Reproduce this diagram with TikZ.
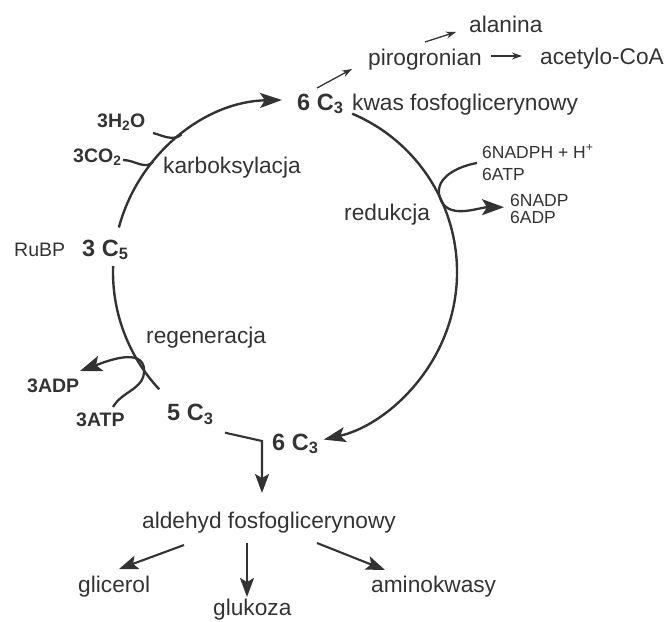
\documentclass[tikz,border=0pt]{standalone}
\usepackage{fontspec}
\setmainfont{Liberation Sans}
\usetikzlibrary{arrows.meta,calc}
\definecolor{ink}{HTML}{333333}
\tikzset{
  lbl/.style={inner sep=0pt, anchor=base west, text=ink, font=\fontsize{22.7}{26}\selectfont},
  numlbl/.style={lbl, font=\fontsize{23.5}{26}\selectfont\bfseries},
  sidelbl/.style={lbl, font=\fontsize{19.5}{22}\selectfont\bfseries},
  smalllbl/.style={lbl, font=\fontsize{17.5}{20}\selectfont},
  namelbl/.style={lbl, font=\fontsize{19.5}{22}\selectfont},
  % the cycle itself
  cycline/.style={draw=ink, line width=2.4pt},
  cycarrow/.style={cycline, -{Stealth[length=22pt,width=15pt,inset=5pt]}},
  % substrates joining / leaving the cycle
  sidehook/.style={draw=ink, line width=2.3pt},
  sidearrow/.style={sidehook, -{Stealth[length=22pt,width=16pt,inset=5pt]}},
  thinarrow/.style={draw=ink, line width=1.3pt, -{Stealth[length=10pt,width=7pt]}},
  flow/.style={draw=ink, line width=2.1pt, -{Stealth[length=19pt,width=14pt,inset=4pt]}},
}
\begin{document}
\begin{tikzpicture}[x=1pt,y=1pt]
  \useasboundingbox (0,0) rectangle (666,-621);
  \coordinate (cyc) at (285,-272);
  % top: products of 3-PGA
  \node[lbl] (ala) at (469,-32) {alanina};
  \node[lbl] (pir) at (368,-65) {pirogronian};
  \node[lbl] (acoa) at (540,-64) {acetylo-CoA};
  \node[numlbl] (pgatop) at (297,-110) {6 C\textsubscript{3}};
  \node[lbl] (pganame) at (352,-110) {kwas fosfoglicerynowy};
  % carboxylation side
  \node[sidelbl] (hwater) at (97,-127) {3H\textsubscript{2}O};
  \node[sidelbl] (cdiox) at (73,-162.7) {3CO\textsubscript{2}};
  \node[lbl] (karb) at (163,-173) {karboksylacja};
  \node[namelbl] (rubpname) at (14,-256) {RuBP};
  \node[numlbl] (rubp) at (82,-256) {3 C\textsubscript{5}};
  % reduction side
  \node[smalllbl] (nadph) at (482,-158) {6NADPH + H\textsuperscript{+}};
  \node[smalllbl] (atp6) at (482,-180) {6ATP};
  \node[smalllbl] (nadp) at (510,-206.7) {6NADP};
  \node[smalllbl] (adp6) at (510,-223) {6ADP};
  \node[lbl] (red) at (344,-220) {redukcja};
  % regeneration side
  \node[lbl] (regen) at (146,-343) {regeneracja};
  \node[sidelbl] (adp3) at (27,-392.7) {3ADP};
  \node[sidelbl] (atp3) at (76,-426.7) {3ATP};
  \node[numlbl] (c5three) at (167,-420.7) {5 C\textsubscript{3}};
  \node[numlbl] (pgabot) at (272,-450) {6 C\textsubscript{3}};
  % bottom: triose phosphate
  \node[lbl] (gap) at (142,-528) {aldehyd fosfoglicerynowy};
  \node[lbl] (glic) at (78,-592) {glicerol};
  \node[lbl] (gluk) at (213,-615.5) {glukoza};
  \node[lbl] (amino) at (371,-592) {aminokwasy};

  % the cycle
  \draw[cycarrow] ($(cyc)+(165:172)$) arc[start angle=165, end angle=91, radius=172];
  \draw[cycarrow] ($(cyc)+(67:172)$) arc[start angle=67, end angle=-77, radius=172];
  \draw[cycline] ($(cyc)+(223:172)$) arc[start angle=223, end angle=178, radius=172];

  % joints on the cycle
  \coordinate (jh) at ($(cyc)+(127:172)$);
  \coordinate (jc) at ($(cyc)+(140:172)$);
  \coordinate (jr) at ($(cyc)+(26:172)$);
  \coordinate (jg) at ($(cyc)+(215:172)$);
  \draw[sidehook] ([shift={(56,-6)}]hwater.base west) to[out=-15,in=217] (jh);
  \draw[sidehook] ([shift={(50,2.7)}]cdiox.base west) to[out=0,in=230] (jc);
  \draw[sidearrow] ([shift={(-5,-5)}]nadph.base west) to[out=190,in=105] (jr)
    to[out=-75,in=180] ([shift={(-6,-0.5)}]nadp.base west);
  \draw[sidearrow] ([shift={(37,19.7)}]atp3.base west) to[out=60,in=-90] (jg)
    to[out=90,in=20] ([shift={(53,21.7)}]adp3.base west);

  % side products of 3-PGA
  \draw[thinarrow] ([shift={(20,22)}]pgatop.base west) -- ([shift={(-16,-4)}]pir.base west);
  \draw[thinarrow] ([shift={(57,23)}]pir.base west) -- ([shift={(-13,0)}]ala.base west);
  \draw[thinarrow] ([shift={(123,9)}]pir.base west) -- ([shift={(-18,8)}]acoa.base west);

  % out of the cycle
  \draw[flow] ([shift={(58,-12)}]c5three.base west) -- ([shift={(-10,9)}]pgabot.base west)
    -- ([shift={(120,35)}]gap.base west);
  \draw[flow] ([shift={(42,-17)}]gap.base west) -- ([shift={(41,23)}]glic.base west);
  \draw[flow] ([shift={(105,-15)}]gap.base west) -- ([shift={(34,18.5)}]gluk.base west);
  \draw[flow] ([shift={(175,-15)}]gap.base west) -- ([shift={(14,22)}]amino.base west);
\end{tikzpicture}
\end{document}
